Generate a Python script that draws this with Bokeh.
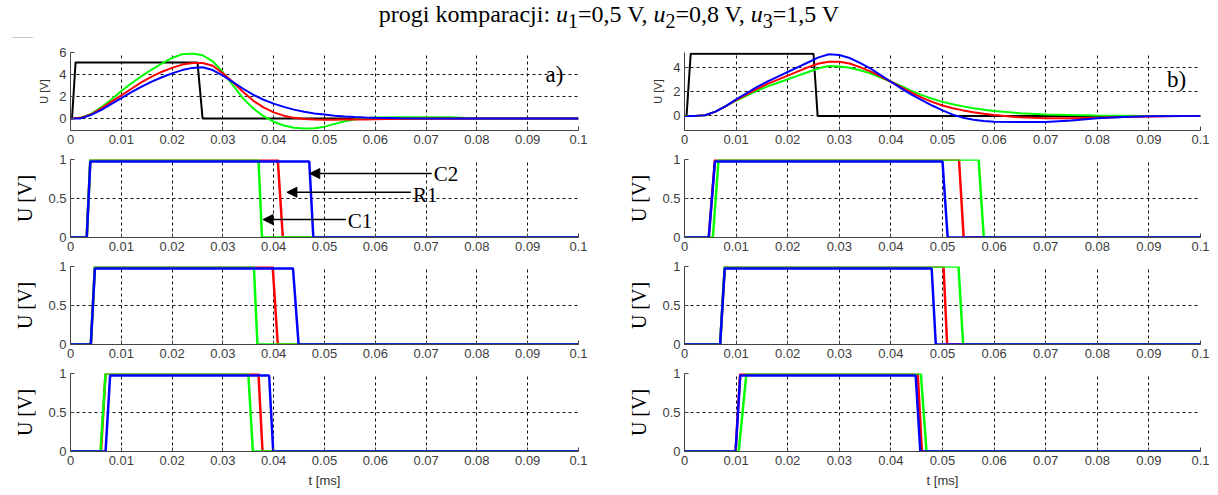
from bokeh.plotting import figure
from bokeh.models import (FixedTicker, CustomJSTickFormatter, Label, Arrow,
                          NormalHead, Div, Range1d)
from bokeh.layouts import column, row
from bokeh.embed import file_html
from bokeh.resources import INLINE

# ---------------- data ----------------
X_TICKS = [0, 0.01, 0.02, 0.03, 0.04, 0.05, 0.06, 0.07, 0.08, 0.09, 0.1]
Y_TICKS_A = [0, 2, 4, 6]
Y_TICKS_B = [0, 2, 4]
Y_TICKS_CMP = [0, 0.5, 1]

# time grid of the analog signals (ms)
t_grid = [0, 0.002, 0.004, 0.006, 0.008, 0.010, 0.012, 0.014, 0.016, 0.018,
          0.020, 0.022, 0.024, 0.026, 0.028, 0.030, 0.032, 0.034, 0.036, 0.038,
          0.040, 0.042, 0.044, 0.046, 0.048, 0.050, 0.052, 0.054, 0.056, 0.058,
          0.060, 0.065, 0.070, 0.075, 0.080, 0.085, 0.090, 0.100]

# a) input pulse and responses
pulse_a_t = [0, 0.0003, 0.0010, 0.0250, 0.0260, 0.1]
pulse_a_v = [0, 0, 5.1, 5.1, 0, 0]
green_a = [0, 0.05, 0.4, 1.0, 1.7, 2.5, 3.2, 3.85, 4.45, 5.0,
           5.5, 5.85, 5.9, 5.75, 5.2, 4.2, 3.0, 1.8, 0.9, 0.2,
           -0.3, -0.65, -0.85, -0.92, -0.9, -0.75, -0.5, -0.25, -0.08, 0.02,
           0.08, 0.1, 0.1, 0.1, 0, 0, 0, 0]
red_a = [0, 0.05, 0.35, 0.9, 1.5, 2.1, 2.7, 3.3, 3.8, 4.25,
         4.6, 4.9, 5.05, 5.05, 4.8, 4.1, 3.3, 2.4, 1.6, 1.0,
         0.55, 0.25, 0.05, -0.05, -0.1, -0.12, -0.12, -0.11, -0.1, -0.09,
         -0.08, -0.03, 0, 0, 0, 0, 0, 0]
blue_a = [0, 0, 0.3, 0.75, 1.3, 1.85, 2.4, 2.9, 3.35, 3.75,
          4.1, 4.4, 4.6, 4.65, 4.4, 3.9, 3.3, 2.7, 2.15, 1.7,
          1.35, 1.05, 0.8, 0.6, 0.45, 0.35, 0.25, 0.18, 0.12, 0.08,
          0.05, 0.02, 0, 0, 0, 0, 0, 0]

# b) input pulse and responses
pulse_b_t = [0, 0.0004, 0.0012, 0.0250, 0.0258, 0.1]
pulse_b_v = [0, 0, 5.1, 5.1, 0, 0]
green_b = [0, 0, 0.05, 0.35, 0.8, 1.25, 1.65, 2.05, 2.4, 2.7,
           3.0, 3.3, 3.6, 3.9, 4.1, 4.05, 3.95, 3.75, 3.5, 3.15,
           2.8, 2.45, 2.05, 1.7, 1.4, 1.15, 0.95, 0.78, 0.62, 0.5,
           0.4, 0.22, 0.12, 0.07, 0.04, 0.02, 0, 0]
red_b = [0, 0, 0.05, 0.35, 0.8, 1.3, 1.75, 2.2, 2.6, 2.95,
         3.3, 3.65, 4.0, 4.3, 4.45, 4.45, 4.3, 4.0, 3.65, 3.25,
         2.8, 2.35, 1.9, 1.5, 1.15, 0.85, 0.62, 0.45, 0.3, 0.18,
         0.08, -0.12, -0.2, -0.2, -0.15, -0.1, -0.05, 0]
blue_b = [0, 0, 0.05, 0.35, 0.8, 1.35, 1.85, 2.35, 2.8, 3.2,
          3.6, 4.0, 4.4, 4.8, 5.05, 5.0, 4.75, 4.35, 3.9, 3.35,
          2.8, 2.25, 1.75, 1.3, 0.85, 0.45, 0.1, -0.15, -0.32, -0.42,
          -0.48, -0.5, -0.5, -0.38, -0.2, -0.1, -0.03, 0]

# comparator outputs: [rise start, rise end, fall start, fall end] (ms)
a_u1_red = [0.0032, 0.0039, 0.0408, 0.0418]
a_u1_green = [0.0032, 0.0039, 0.0370, 0.0377]
a_u1_blue = [0.0032, 0.0039, 0.0470, 0.0478]
a_u2_red = [0.0040, 0.0048, 0.0398, 0.0408]
a_u2_green = [0.0040, 0.0048, 0.0361, 0.0368]
a_u2_blue = [0.0040, 0.0048, 0.0438, 0.0449]
a_u3_red = [0.0060, 0.0069, 0.0370, 0.0378]
a_u3_green = [0.0059, 0.0069, 0.0350, 0.0359]
a_u3_blue = [0.0069, 0.0078, 0.0391, 0.0399]

b_u1_red = [0.0047, 0.0059, 0.0532, 0.0541]
b_u1_green = [0.0055, 0.0066, 0.0570, 0.0580]
b_u1_blue = [0.0047, 0.0059, 0.0500, 0.0510]
b_u2_red = [0.0069, 0.0078, 0.0502, 0.0509]
b_u2_green = [0.0069, 0.0078, 0.0531, 0.0540]
b_u2_blue = [0.0069, 0.0078, 0.0479, 0.0487]
b_u3_red = [0.0099, 0.0108, 0.0452, 0.0460]
b_u3_green = [0.0105, 0.0120, 0.0458, 0.0469]
b_u3_blue = [0.0099, 0.0108, 0.0448, 0.0457]

cmp_level = {"red": 1.0, "green": 1.0, "blue": 0.975}

# ---------------- styling ----------------
COL = {"red": "#ff0000", "green": "#00ff00", "blue": "#0000ff"}
SANS = "Liberation Sans"
SERIF = "Liberation Serif"
FMT = CustomJSTickFormatter(code="return String(Math.round(tick*1000)/1000);")


def base_fig(side, last, yr, yticks):
    left = side == "a"
    p = figure(title=None,
               frame_width=508 if left else 516, frame_height=78,
               min_border_left=70 if left else 75,
               min_border_right=31 if left else 18,
               min_border_top=10, min_border_bottom=44 if last else 19,
               x_range=Range1d(0, 0.1), y_range=Range1d(*yr),
               output_backend="svg", toolbar_location=None, tools="",
               background_fill_color="white", border_fill_color="white")
    p.outline_line_color = None
    p.xaxis.ticker = FixedTicker(ticks=X_TICKS)
    p.yaxis.ticker = FixedTicker(ticks=yticks)
    for ax in (p.xaxis, p.yaxis):
        ax.formatter = FMT
        ax.major_label_text_font = SANS
        ax.major_label_text_font_size = "13px"
        ax.major_label_text_color = "#3c3c3c"
        ax.major_tick_in = 4
        ax.major_tick_out = 0
        ax.major_tick_line_color = "#444444"
        ax.minor_tick_line_color = None
        ax.axis_line_color = "#444444"
        ax.axis_line_width = 1
        ax.major_label_standoff = 4
    p.grid.grid_line_color = "#111111"
    p.grid.grid_line_dash = "3 3"
    p.grid.grid_line_width = 1
    if last:
        p.xaxis.axis_label = "t [ms]"
        p.xaxis.axis_label_text_font = SANS
        p.xaxis.axis_label_text_font_size = "13px"
        p.xaxis.axis_label_text_font_style = "normal"
        p.xaxis.axis_label_text_color = "#333333"
        p.xaxis.axis_label_standoff = 5
    return p


def analog_fig(side, pulse_t, pulse_v, g, r, b, yr, yticks, tag, tag_y):
    p = base_fig(side, False, yr, yticks)
    p.yaxis.axis_label = "U [V]"
    p.yaxis.axis_label_text_font = SANS
    p.yaxis.axis_label_text_font_size = "11px"
    p.yaxis.axis_label_text_font_style = "normal"
    p.yaxis.axis_label_text_color = "#333333"
    p.yaxis.axis_label_standoff = 6
    p.line(pulse_t, pulse_v, line_color="black", line_width=2)
    p.line(t_grid, g, line_color=COL["green"], line_width=2)
    p.line(t_grid, r, line_color=COL["red"], line_width=2)
    p.line(t_grid, b, line_color=COL["blue"], line_width=2)
    p.add_layout(Label(x=0.0935, y=tag_y, text=tag, text_font=SERIF,
                       text_font_size="23px", text_baseline="middle",
                       text_color="black"))
    return p


def cmp_fig(side, last, series):
    p = base_fig(side, last, (0, 1), Y_TICKS_CMP)
    for name in ("red", "green", "blue"):
        s = series[name]
        lv = cmp_level[name]
        p.line([0, s[0], s[1], s[2], s[3], 0.1], [0, 0, lv, lv, 0, 0],
               line_color=COL[name], line_width=2.5)
    p.yaxis.axis_label = "U [V]"
    p.yaxis.axis_label_text_font = SERIF
    p.yaxis.axis_label_text_font_size = "20px"
    p.yaxis.axis_label_text_font_style = "normal"
    p.yaxis.axis_label_text_color = "black"
    p.yaxis.axis_label_standoff = 9
    return p


fa1 = analog_fig("a", pulse_a_t, pulse_a_v, green_a, red_a, blue_a,
                 (-1.1, 6), Y_TICKS_A, "a)", 4.0)
fb1 = analog_fig("b", pulse_b_t, pulse_b_v, green_b, red_b, blue_b,
                 (-1.2, 5.2), Y_TICKS_B, "b)", 3.0)

fa2 = cmp_fig("a", False, {"red": a_u1_red, "green": a_u1_green, "blue": a_u1_blue})
fa3 = cmp_fig("a", False, {"red": a_u2_red, "green": a_u2_green, "blue": a_u2_blue})
fa4 = cmp_fig("a", True, {"red": a_u3_red, "green": a_u3_green, "blue": a_u3_blue})
fb2 = cmp_fig("b", False, {"red": b_u1_red, "green": b_u1_green, "blue": b_u1_blue})
fb3 = cmp_fig("b", False, {"red": b_u2_red, "green": b_u2_green, "blue": b_u2_blue})
fb4 = cmp_fig("b", True, {"red": b_u3_red, "green": b_u3_green, "blue": b_u3_blue})

# arrows with labels C2, R1, C1
for (xs, xe, ya, txt, yt) in [(0.0711, 0.0471, 0.82, "C2", 0.82),
                              (0.0670, 0.0426, 0.58, "R1", 0.55),
                              (0.0542, 0.0379, 0.23, "C1", 0.21)]:
    fa2.add_layout(Arrow(end=NormalHead(size=10, fill_color="black",
                                        line_color="black"),
                         x_start=xs, y_start=ya, x_end=xe, y_end=ya,
                         line_color="black", line_width=1.5))
    fa2.add_layout(Label(x=xs + 0.0004, y=yt, text=txt, text_font=SERIF,
                         text_font_size="21px", text_baseline="middle",
                         text_color="black"))

title_html = ('<div style="position:relative;width:1218px;height:42px;">'
              '<div style="width:1218px;text-align:center;font-family:\'Liberation Serif\';'
              'font-size:24px;line-height:28px;color:black;">'
              'progi komparacji: <i>u</i><sub>1</sub>=0,5 V, '
              '<i>u</i><sub>2</sub>=0,8 V, <i>u</i><sub>3</sub>=1,5 V</div>'
              '<div style="position:absolute;left:12px;top:37px;width:21px;'
              'height:1px;background:#c8c8c8;"></div></div>')
title = Div(text=title_html, width=1218, height=42, margin=(0, 0, 0, 0))

layout = column(title,
                row(column(fa1, fa2, fa3, fa4, spacing=0),
                    column(fb1, fb2, fb3, fb4, spacing=0), spacing=0),
                spacing=0)

open("out.html", "w").write(file_html(layout, INLINE))
